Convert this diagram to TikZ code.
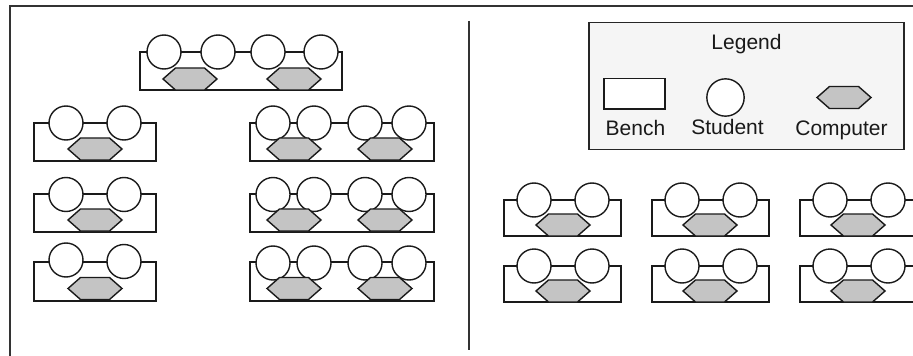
\documentclass[tikz,border=0pt]{standalone}
\usepackage{fontspec}
\setmainfont{Liberation Sans}
\definecolor{legendbg}{HTML}{F5F5F5}
\definecolor{compgray}{HTML}{C4C4C4}
\definecolor{inkc}{HTML}{1A1A1A}
\tikzset{
  px/.style={x=0.75pt,y=-0.75pt},
  benchbox/.style={draw=inkc,line width=1.05pt,fill=white},
  student/.style={circle,draw=inkc,line width=1.05pt,fill=white,minimum size=25.5pt,inner sep=0pt},
  computer/.style={draw=inkc,line width=1.05pt,fill=compgray,line join=miter},
  rule/.style={draw=black!80,line width=1.05pt},
  lbl/.style={font=\fontsize{15.75pt}{18pt}\selectfont,inner sep=0pt,anchor=base,text=black!90}
}
% \comp{cx}{cy}
\newcommand{\comp}[2]{\draw[computer] (#1-27,#2) -- (#1-14.5,#2-11) -- (#1+14.5,#2-11) -- (#1+27,#2) -- (#1+14.5,#2+11) -- (#1-14.5,#2+11) -- cycle;}
\newcommand{\bench}[4]{\draw[benchbox] (#1,#3) rectangle (#2,#4);}
\newcommand{\stud}[3]{\node[student] (#1) at (#2,#3) {};}
\begin{document}
\begin{tikzpicture}[px]
\useasboundingbox (0,0) rectangle (913,356);
\begin{scope}
\clip (0,0) rectangle (913,356);
\fill[white] (0,0) rectangle (913,356);
% frame
\coordinate (frameTL) at (10,6);
\coordinate (frameTR) at (913,6);
\coordinate (frameBL) at (10,356);
\coordinate (divT) at (469,21);
\coordinate (divB) at (469,350);
\draw[rule] (frameBL) -- (frameTL) -- (frameTR);
\draw[rule] (divT) -- (divB);
% top bench
\bench{140}{342}{52}{90}
\stud{a1}{164}{52}\stud{a2}{218}{52}\stud{a3}{268}{52}\stud{a4}{321}{52}
\comp{190}{79}\comp{294}{79}
% left column
\bench{34}{156}{123}{161}
\stud{b1}{66}{123}\stud{b2}{124}{123}
\comp{95}{149}
\bench{34}{156}{194}{232}
\stud{c1}{66}{194.5}\stud{c2}{124}{194.5}
\comp{95}{220}
\bench{34}{156}{262}{301}
\stud{d1}{66}{260}\stud{d2}{124}{261.5}
\comp{95}{288.5}
% right column of four-seat benches
\bench{250}{434}{123}{161}
\stud{e1}{273}{123}\stud{e2}{314}{123}\stud{e3}{365}{123}\stud{e4}{409}{123}
\comp{294}{149}\comp{385}{149}
\bench{250}{434}{194}{232}
\stud{f1}{273}{194.5}\stud{f2}{314}{194.5}\stud{f3}{365}{194.5}\stud{f4}{409}{194.5}
\comp{294}{220}\comp{385}{220}
\bench{250}{434}{262}{301}
\stud{g1}{273}{263}\stud{g2}{314}{263}\stud{g3}{365}{263}\stud{g4}{409}{263}
\comp{294}{288.5}\comp{385}{288.5}
% right-hand rows
\bench{504}{621}{200}{236}
\stud{h1}{534}{200}\stud{h2}{592}{200}
\comp{563}{225}
\bench{652}{769}{200}{236}
\stud{i1}{682}{200}\stud{i2}{740}{200}
\comp{710}{225}
\bench{800}{917}{200}{236}
\stud{j1}{830}{200}\stud{j2}{888}{200}
\comp{858}{225}
\bench{504}{621}{266}{302}
\stud{k1}{534}{266}\stud{k2}{592}{266}
\comp{563}{291}
\bench{652}{769}{266}{302}
\stud{l1}{682}{266}\stud{l2}{740}{266}
\comp{710}{291}
\bench{800}{917}{266}{302}
\stud{m1}{830}{266}\stud{m2}{888}{266}
\comp{858}{291}
% legend
\draw[draw=black!85,line width=1.05pt,fill=legendbg] (589,22.5) rectangle (904,149.5);
\node[lbl] (legendt) at (746.5,49.5) {Legend};
\draw[benchbox] (604,78.5) rectangle (665,109);
\node[student,minimum size=28pt] (legs) at (725.5,97.5) {};
\comp{844}{97.5}
\node[lbl] (legb) at (635.5,136) {Bench};
\node[lbl] (legst) at (727.5,134.5) {Student};
\node[lbl] (legc) at (841.5,135.5) {Computer};
\end{scope}
\end{tikzpicture}
\end{document}
